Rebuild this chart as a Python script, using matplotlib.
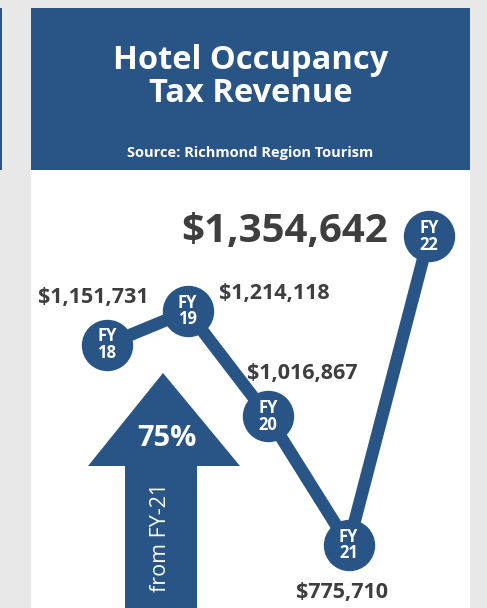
import matplotlib.pyplot as plt
from matplotlib.patches import Rectangle, Polygon

# data
years = ['18', '19', '20', '21', '22']
revenue = [1151731, 1214118, 1016867, 775710, 1354642]
value_labels = ['$1,151,731', '$1,214,118', '$1,016,867', '$775,710', '$1,354,642']

title = ['Hotel Occupancy', 'Tax Revenue']
source = 'Source: Richmond Region Tourism'
change_pct = '75%'
change_note = 'from FY-21'

BLUE = '#285486'
GRAY_BG = '#e8e8e8'
TEXT = '#3e3e3e'
FONT = ['Open Sans', 'DejaVu Sans']

plt.rcParams['font.family'] = FONT

W, H = 487, 608
fig = plt.figure(figsize=(W / 100, H / 100), dpi=100)
fig.patch.set_facecolor(GRAY_BG)

# background axes in pixel units for panel, header and arrow
bg = fig.add_axes([0, 0, 1, 1])
bg.set_xlim(0, W)
bg.set_ylim(H, 0)
bg.axis('off')

bg.add_patch(Rectangle((0, 8), 2, 162, color=BLUE, lw=0))
bg.add_patch(Rectangle((31, 8), 439, H, color='white', lw=0))
bg.add_patch(Rectangle((31, 8), 439, 162, color=BLUE, lw=0))

for line, base in zip(title, [69, 102]):
    bg.text(250.5, base, line, color='white', fontsize=23.5,
            fontweight='bold', ha='center', va='baseline')
bg.text(250.5, 157, source, color='white', fontsize=10.5,
        fontweight='bold', ha='center', va='baseline')

# big arrow
arrow = [(163, 373), (240, 466), (197, 466), (197, H + 5),
         (125, H + 5), (125, 466), (88, 466)]
bg.add_patch(Polygon(arrow, closed=True, color=BLUE, lw=0))
bg.text(167, 438, change_pct, color='white', fontsize=21,
        fontweight='bold', ha='center', va='center')
bg.text(161, 537, change_note, color='white', fontsize=15.5,
        rotation=90, ha='center', va='center')

# chart axes over the white panel area
ax = fig.add_axes([31 / W, 0, 439 / W, 438 / H])
ax.set_xlim(-0.944, 4.509)
ax.set_ylim(657400, 1479200)
ax.axis('off')
ax.patch.set_alpha(0)

xs = list(range(len(years)))
ax.plot(xs, revenue, color=BLUE, lw=9, solid_capstyle='round', zorder=2)
ax.plot(xs, revenue, 'o', color=BLUE, markersize=36, mec=BLUE, zorder=3)

for x, v, y in zip(xs, revenue, years):
    ax.text(x, v, 'FY\n' + y, color='white', fontsize=12,
            fontweight='bold', ha='center', va='center',
            linespacing=0.88, zorder=4)

# value labels: (dx, dy) in points, alignment, size
offsets = [(-10, 34, 'center', 15.5),
           (22.5, 13, 'left', 15.5),
           (-15, 31, 'left', 15.5),
           (-4.7, -34, 'center', 15.5),
           (-29.5, 3.6, 'right', 29)]
for x, v, lab, (dx, dy, ha, fs) in zip(xs, revenue, value_labels, offsets):
    ax.annotate(lab, (x, v), xytext=(dx, dy), textcoords='offset points',
                ha=ha, va='center', fontsize=fs, fontweight='bold', color=TEXT)

fig.savefig('out.png', dpi=100, facecolor=GRAY_BG)
